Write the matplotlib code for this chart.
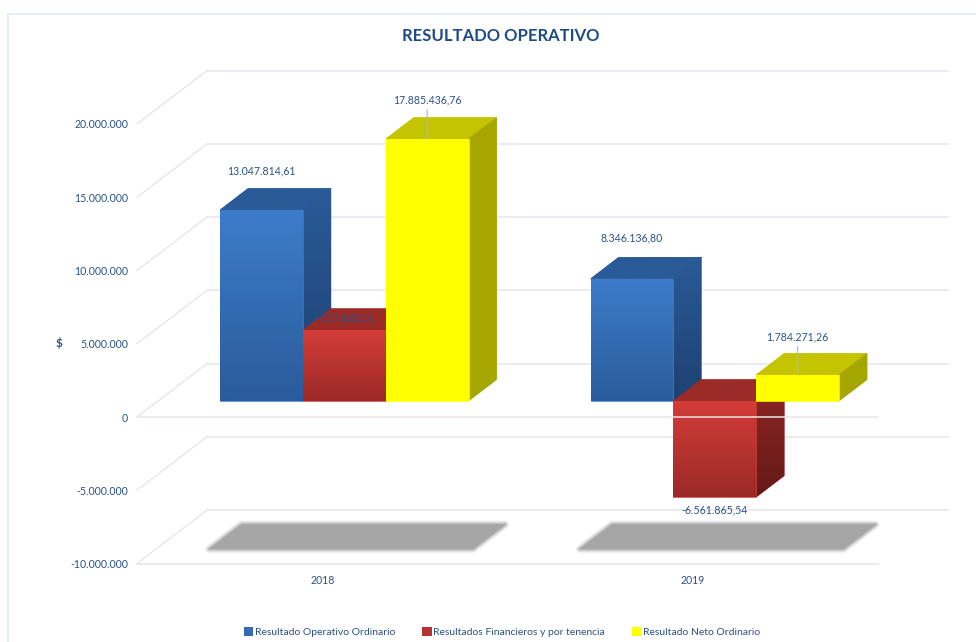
#!/usr/bin/python3

import matplotlib
matplotlib.use("Agg")
import matplotlib.pyplot as plt
from matplotlib.patches import Polygon, Patch
from matplotlib.colors import LinearSegmentedColormap
from matplotlib.ticker import FuncFormatter
import numpy as np

plt.rcParams['font.family'] = ['Lato', 'DejaVu Sans']

years = ["2018", "2019"]
series = ["Resultado Operativo Ordinario", "Resultados Financieros y por tenencia", "Resultado Neto Ordinario"]
operativo = [13047814.61, 8346136.80]
financieros = [4837622.16, -6561865.54]
neto = [17885436.76, 1784271.26]
ticks = [-10000000, -5000000, 0, 5000000, 10000000, 15000000, 20000000]

text_color = "#2b5287"
grid_color = "#e6e8f1"
diag_color = "#e2e2e2"

# front colours (top, bottom), top face, side (top, bottom), legend swatch
styles = [
    dict(front=("#3d7cca", "#2a5c9b"), top="#2a5b98", side=("#2a5a96", "#1e4172"), swatch="#336cb3"),
    dict(front=("#d43c39", "#9b2a27"), top="#9c2b28", side=("#8c2623", "#651a18"), swatch="#b83330"),
    dict(front=("#ffff00", "#ffff00"), top="#c4c400", side=("#a6a600", "#a6a600"), swatch="#ffff00"),
]

W, H = 976, 642
BAR_W = 0.2235
# depth of the box, in category units and value units
DX = 70 / 370.5
DY = 53.5 / 14.65 * 1e6
D0 = 0.30
D1 = 0.70
X_NUDGE = 0.003


def proj(x, v, d):
    return (x + d * DX, v + d * DY)


def money(v):
    s = f"{v:,.2f}"
    return s.replace(",", "#").replace(".", ",").replace("#", ".")


def face(ax, pts, c1, c2, z):
    # the solid polygon below closes the gaps the clipped image leaves at its edges
    poly = Polygon(pts, closed=True, transform=ax.transData, facecolor=c1, edgecolor=c1, lw=0.4, zorder=z,
                   clip_on=False)
    ax.add_patch(poly)
    pts = np.array(pts)
    cmap = LinearSegmentedColormap.from_list("f", [c1, c2])
    grad = np.linspace(0, 1, 64).reshape(-1, 1)
    ext = (pts[:, 0].min(), pts[:, 0].max(), pts[:, 1].min(), pts[:, 1].max())
    im = ax.imshow(grad, cmap=cmap, extent=ext, origin="upper", aspect="auto", zorder=z, vmin=0, vmax=1)
    im.set_clip_box(ax.figure.bbox)
    im.set_clip_path(poly)


def bar3d(ax, x, v, st, z):
    lo, hi = min(v, 0), max(v, 0)
    x2 = x + BAR_W
    # top face, side, then front
    face(ax, [proj(x, hi, D0), proj(x2, hi, D0), proj(x2, hi, D1), proj(x, hi, D1)], st["top"], st["top"], z)
    face(ax, [proj(x2, lo, D0), proj(x2, hi, D0), proj(x2, hi, D1), proj(x2, lo, D1)], st["side"][0], st["side"][1], z)
    face(ax, [proj(x, lo, D0), proj(x2, lo, D0), proj(x2, hi, D0), proj(x, hi, D0)], st["front"][0], st["front"][1], z + 0.1)


def shadow(ax, cx):
    half = 0.356
    pts = [proj(cx - half, ticks[0], 0.27), proj(cx + half, ticks[0], 0.27),
           proj(cx + half, ticks[0], 0.73), proj(cx - half, ticks[0], 0.73)]
    # a few round strokes to soften the edge
    for lw, a in ((6, 0.12), (4.5, 0.2), (3, 0.35), (1.5, 0.5)):
        ax.add_patch(Polygon(pts, closed=True, facecolor="#a6a6a6", edgecolor="#a6a6a6", lw=lw, alpha=a,
                             joinstyle="round", zorder=1.5, clip_on=False))
    ax.add_patch(Polygon(pts, closed=True, facecolor="#a6a6a6", edgecolor="none", zorder=1.6, clip_on=False))


def main():
    fig = plt.figure(figsize=(W / 100, H / 100), dpi=100)
    ax = fig.add_axes([137 / W, 1 - 563.5 / H, 741 / W, 439.5 / H])

    # outer frame
    fig.add_artist(plt.Line2D([8 / W, 8 / W, 1], [0, 1 - 14 / H, 1 - 14 / H], color="#e3ecf7", lw=1.4))

    # back wall gridlines and the diagonals on the left side
    for t in ticks:
        p0, p1 = proj(0, t, 0), proj(0, t, 1)
        ax.plot([p0[0], p1[0]], [p0[1], p1[1]], color=diag_color, lw=0.8, zorder=1, clip_on=False)
        b0, b1 = proj(0, t, 1), proj(2, t, 1)
        ax.plot([b0[0], b1[0]], [b0[1], b1[1]], color=grid_color, lw=1.2, zorder=1, clip_on=False)
    ax.plot([0, 2], [ticks[0], ticks[0]], color=grid_color, lw=1.2, zorder=1, clip_on=False)

    for i in range(len(years)):
        shadow(ax, i + 0.5)

    all_vals = [operativo, financieros, neto]
    for i in range(len(years)):
        left = i + 0.5 - 1.5 * BAR_W + X_NUDGE
        for j, vals in enumerate(all_vals):
            bar3d(ax, left + j * BAR_W, vals[i], styles[j], 3 + i + j * 0.2)

    # zero line of the front, it runs over the bar that goes below zero
    ax.plot([0, 2], [0, 0], color="#ebe6e8", lw=1.1, zorder=8, clip_on=False)

    # data labels, gap in pixels from the end of the bar
    gaps = [[39, 12, 39], [41, -13, 38]]
    leaders = [[False, False, True], [False, False, True]]
    for i in range(len(years)):
        left = i + 0.5 - 1.5 * BAR_W + X_NUDGE
        for j, vals in enumerate(all_vals):
            v = vals[i]
            x, y = proj(left + (j + 0.5) * BAR_W, v, D0)
            if leaders[i][j]:
                ax.annotate("", xy=(x, y), xytext=(0, gaps[i][j] * 0.72 - 7), textcoords="offset points",
                            xycoords="data", annotation_clip=False, zorder=9,
                            arrowprops=dict(arrowstyle="-", color="#9dbfdc", lw=0.9, shrinkA=0, shrinkB=0))
            ax.annotate(money(v), xy=(x, y), xytext=(0, gaps[i][j] * 0.72), textcoords="offset points",
                        ha="center", va="center", fontsize=7.6, color=text_color, zorder=10,
                        annotation_clip=False)

    ax.set_xlim(0, 2)
    ax.set_ylim(ticks[0], ticks[-1])
    ax.set_xticks([i + 0.5 for i in range(len(years))], years)
    ax.set_yticks(ticks)
    ax.yaxis.set_major_formatter(FuncFormatter(lambda v, p: f"{int(v):,}".replace(",", ".")))
    ax.tick_params(length=0, labelsize=7.6, labelcolor=text_color)
    ax.tick_params(axis="y", pad=6.5)
    ax.tick_params(axis="x", pad=8)
    ax.set_frame_on(False)
    fig.text(59 / W, 1 - 343 / H, "$", fontsize=8.5, fontweight="bold", color=text_color, ha="center", va="center")
    fig.text(500.5 / W, 1 - 36 / H, "RESULTADO OPERATIVO", fontsize=12, fontweight="bold", color="#1f4a86",
             ha="center", va="center")

    handles = [Patch(facecolor=s["swatch"], edgecolor="none", label=n) for s, n in zip(styles, series)]
    fig.legend(handles=handles, loc="center", bbox_to_anchor=(502 / W, 1 - 632 / H), ncol=3, frameon=False,
               fontsize=7.5, labelcolor=text_color, handlelength=0.9, handleheight=0.9, handletextpad=0.15,
               columnspacing=2.6, borderpad=0, borderaxespad=0)

    fig.savefig("out.png", dpi=100)


if __name__ == "__main__":
    main()
